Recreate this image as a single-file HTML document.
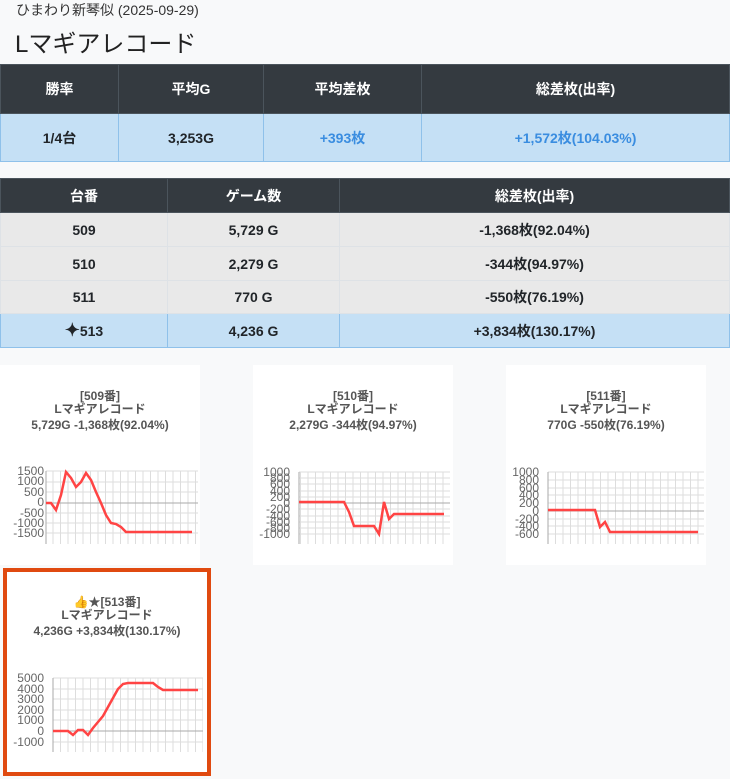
<!DOCTYPE html>
<html><head><meta charset="utf-8"><style>
*{box-sizing:border-box;margin:0;padding:0}
body{width:730px;height:779px;background:#f8f9fa;font-family:"Liberation Sans","Noto Sans CJK JP",sans-serif;color:#212529;position:relative;overflow:hidden}
.a{position:absolute}
table{position:absolute;left:0;width:730px;border-collapse:collapse;font-size:14px;font-weight:bold;text-align:center}
td,th{border:1px solid #dee2e6}
th{background:#343a40;color:#fff;border-color:#4b545c}
.blue td{background:#c5e0f5;border-color:#8fc1ea}
.g td{background:#e9e9e9}
.card{position:absolute;background:#fff}
</style></head><body>
<div class="a" style="left:16px;top:0px;font-size:14px;color:#333">ひまわり新琴似 (2025-09-29)</div>
<div class="a" style="left:15px;top:24px;font-size:24px;color:#222">Lマギアレコード</div>
<table style="top:64px">
<tr style="height:49px"><th style="width:118px">勝率</th><th style="width:145px">平均G</th><th style="width:158px">平均差枚</th><th>総差枚(出率)</th></tr>
<tr class="blue" style="height:48px"><td>1/4台</td><td>3,253G</td><td style="color:#3a8de0">+393枚</td><td style="color:#3a8de0">+1,572枚(104.03%)</td></tr>
</table>
<table style="top:178px">
<tr style="height:34px"><th style="width:167px">台番</th><th style="width:172px">ゲーム数</th><th>総差枚(出率)</th></tr>
<tr class="g" style="height:34px"><td>509</td><td>5,729 G</td><td>-1,368枚(92.04%)</td></tr>
<tr class="g" style="height:34px"><td>510</td><td>2,279 G</td><td>-344枚(94.97%)</td></tr>
<tr class="g" style="height:33px"><td>511</td><td>770 G</td><td>-550枚(76.19%)</td></tr>
<tr class="blue" style="height:34px"><td><span style="font-size:18px">✦</span>513</td><td>4,236 G</td><td>+3,834枚(130.17%)</td></tr>
</table>
<div class="card" style="left:0;top:365px;width:200px;height:200px"></div>
<div class="card" style="left:253px;top:365px;width:200px;height:200px"></div>
<div class="card" style="left:506px;top:365px;width:200px;height:200px"></div>
<div class="card" style="left:3px;top:568px;width:208px;height:208px;border:4px solid #e04a10"></div>
<svg class="a" style="left:0;top:0" width="730" height="779" font-family="Liberation Sans, Noto Sans CJK JP, sans-serif">
<defs>
<pattern id="v" width="7.5" height="10" patternUnits="userSpaceOnUse"><line x1="0.5" y1="0" x2="0.5" y2="10" stroke="#ddd"/></pattern>
</defs>
<g font-size="12" font-weight="bold" fill="#555" text-anchor="middle">
<text x="100" y="400">[509番]</text><text x="100" y="413">Lマギアレコード</text><text x="100" y="429">5,729G -1,368枚(92.04%)</text>
<text x="353" y="400">[510番]</text><text x="353" y="413">Lマギアレコード</text><text x="353" y="429">2,279G -344枚(94.97%)</text>
<text x="606" y="400">[511番]</text><text x="606" y="413">Lマギアレコード</text><text x="606" y="429">770G -550枚(76.19%)</text>
<text x="107" y="606">👍★[513番]</text><text x="107" y="619">Lマギアレコード</text><text x="107" y="635">4,236G +3,834枚(130.17%)</text>
</g>
<!-- chart1 -->
<g stroke="#ddd" stroke-width="1">
<rect x="46" y="471" width="152" height="73" fill="url(#v)" stroke="none"/>
<path d="M46 471H198M46 482H198M46 492H198M46 513H198M46 523H198M46 533H198"/>
<path d="M46 503H198" stroke="#aaa"/><path d="M46 471V544" stroke="#aaa"/>
</g>
<g font-size="12" fill="#666" text-anchor="end">
<text x="44" y="475">1500</text><text x="44" y="485">1000</text><text x="44" y="496">500</text><text x="44" y="506">0</text><text x="44" y="517">-500</text><text x="44" y="527">-1000</text><text x="44" y="537">-1500</text></g>
<polyline fill="none" stroke="#f44" stroke-width="2.5" points="46,503 51,503 56,510 61,495 66,472 71,478 76,487 81,482 86,473 91,480 96,492 101,503 106,515 111,523 116,524 121,527 126,532 192,532"/>
<!-- chart2 -->
<g stroke="#ddd">
<rect x="299" y="472" width="151" height="72" fill="url(#v)" stroke="none"/>
<path d="M299 472H450M299 478H450M299 484H450M299 491H450M299 497H450M299 509H450M299 516H450M299 522H450M299 528H450M299 534H450"/>
<path d="M299 503H450M299 472V544" stroke="#aaa"/></g>
<g font-size="12" fill="#666" text-anchor="end">
<text x="290" y="476">1000</text><text x="290" y="482">800</text><text x="290" y="488">600</text><text x="290" y="495">400</text><text x="290" y="501">200</text><text x="290" y="507">0</text><text x="290" y="513">-200</text><text x="290" y="520">-400</text><text x="290" y="526">-600</text><text x="290" y="532">-800</text><text x="290" y="538">-1000</text></g>
<polyline fill="none" stroke="#f44" stroke-width="2.5" points="299,502 344,502 349,512 354,526 374,526 379,534 384,502 389,519 394,514 444,514"/>
<!-- chart3 -->
<g stroke="#ddd">
<rect x="548" y="472" width="156" height="72" fill="url(#v)" stroke="none"/>
<path d="M548 472H704M548 480H704M548 488H704M548 495H704M548 503H704M548 519H704M548 526H704M548 534H704"/>
<path d="M548 511H704M548 472V544" stroke="#aaa"/></g>
<g font-size="12" fill="#666" text-anchor="end">
<text x="539" y="476">1000</text><text x="539" y="484">800</text><text x="539" y="492">600</text><text x="539" y="499">400</text><text x="539" y="507">200</text><text x="539" y="515">0</text><text x="539" y="523">-200</text><text x="539" y="530">-400</text><text x="539" y="538">-600</text></g>
<polyline fill="none" stroke="#f44" stroke-width="2.5" points="548,510 595,510 600,527 605,522 610,532 698,532"/>
<!-- chart4 -->
<g stroke="#ddd">
<rect x="53" y="678" width="150" height="74" fill="url(#v)" stroke="none"/>
<path d="M53 678H203M53 689H203M53 699H203M53 710H203M53 720H203M53 742H203"/>
<path d="M53 731H203M53 678V752" stroke="#aaa"/></g>
<g font-size="12" fill="#666" text-anchor="end">
<text x="44" y="682">5000</text><text x="44" y="693">4000</text><text x="44" y="703">3000</text><text x="44" y="714">2000</text><text x="44" y="724">1000</text><text x="44" y="735">0</text><text x="44" y="746">-1000</text></g>
<polyline fill="none" stroke="#f44" stroke-width="2.5" points="53,731 68,731 73,735 78,730 83,730 88,735 93,728 98,722 103,716 108,707 113,698 118,689 123,684 128,683 153,683 158,687 163,690 198,690"/>
</svg>
</body></html>
